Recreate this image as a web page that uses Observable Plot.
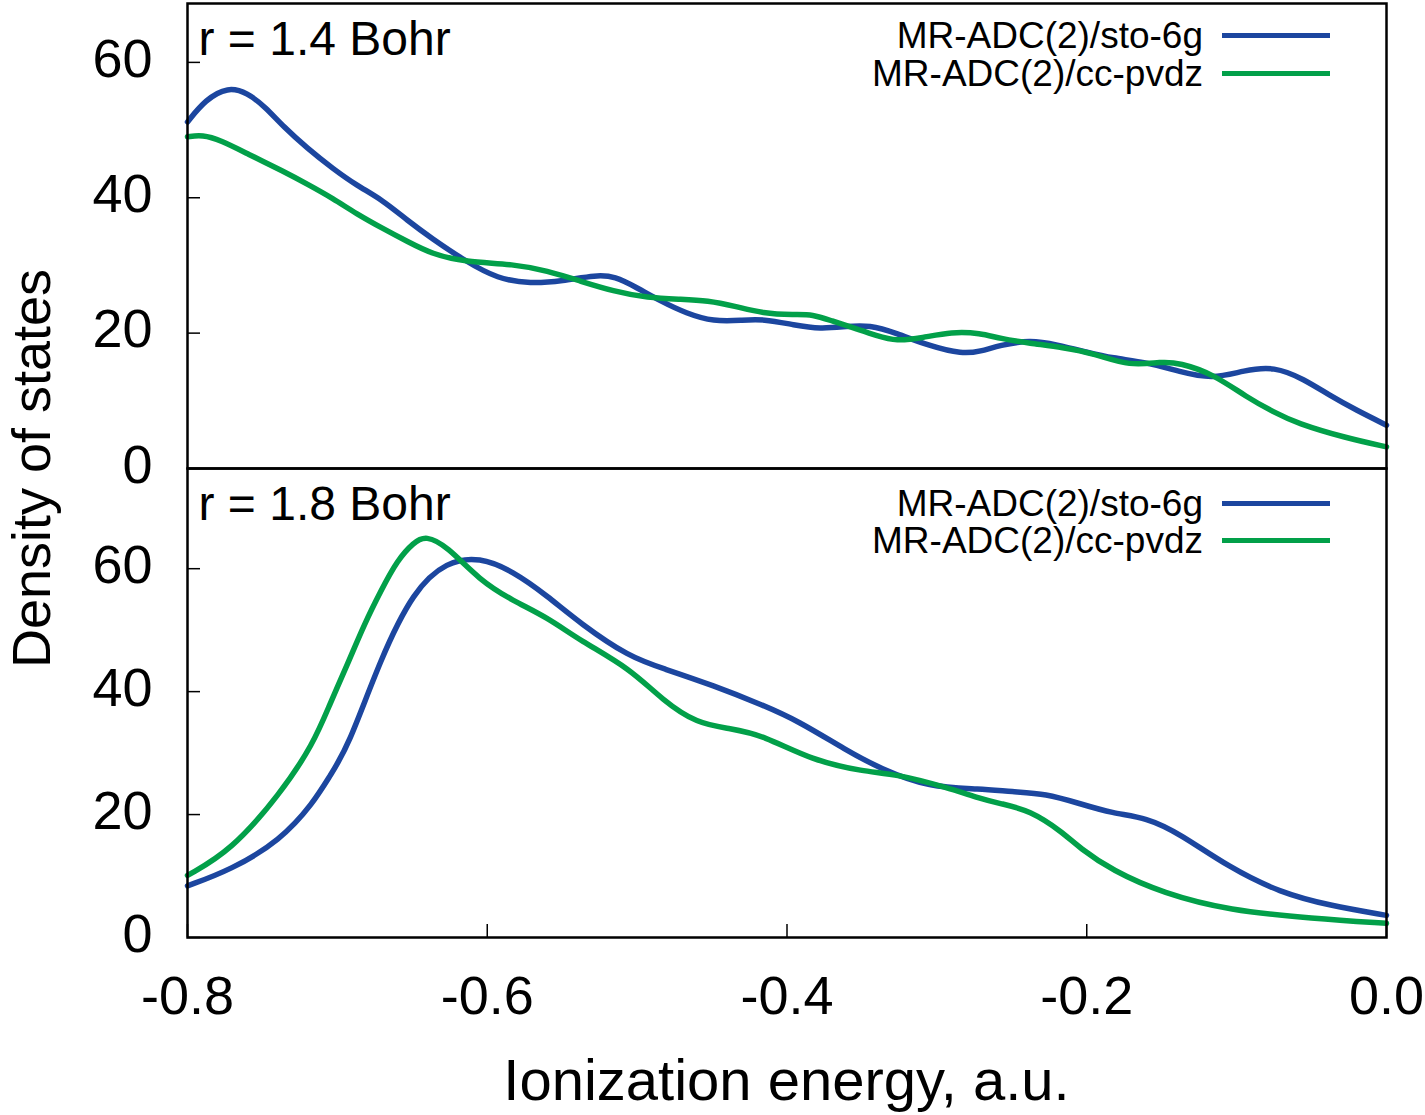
<!DOCTYPE html>
<html>
<head>
<meta charset="utf-8">
<script src="https://cdn.jsdelivr.net/npm/d3@7"></script>
<script src="https://cdn.jsdelivr.net/npm/@observablehq/plot@0.6"></script>
<style>
  html, body { margin: 0; padding: 0; background: #fff; }
  #chart { position: relative; width: 1425px; height: 1115px; font-family: "Liberation Sans", Arial, Helvetica, sans-serif; color: #000; }
  #chart svg { position: absolute; left: 0; top: 0; overflow: visible; }
  .txt { position: absolute; white-space: nowrap; line-height: 1; }
  .legline { position: absolute; height: 5px; }
</style>
</head>
<body>
<div id="chart"></div>
<script>
// ---------- data ----------
const xTicks = [-0.8, -0.6, -0.4, -0.2, 0.0];
const yTicks = [0, 20, 40, 60];
const seriesNames = ["MR-ADC(2)/sto-6g", "MR-ADC(2)/cc-pvdz"];
const seriesColors = ["#1c469f", "#02a049"];
const panelLabels = ["r = 1.4 Bohr", "r = 1.8 Bohr"];
const xTitle = "Ionization energy, a.u.";
const yTitle = "Density of states";

// r = 1.4 Bohr, sto-6g  [energy, DOS]
const r14_sto6g = [
  [-0.800,51.2],[-0.788,54.5],[-0.773,56.4],[-0.760,55.5],[-0.748,53.4],[-0.736,50.5],
  [-0.720,47.3],[-0.703,44.3],[-0.687,41.8],[-0.670,39.7],[-0.653,36.6],[-0.637,34.0],
  [-0.615,30.7],[-0.593,28.0],[-0.571,27.3],[-0.550,27.7],[-0.527,28.6],[-0.515,28.4],
  [-0.500,26.7],[-0.485,24.8],[-0.467,22.9],[-0.449,21.7],[-0.430,21.9],[-0.416,22.1],
  [-0.395,21.2],[-0.378,20.6],[-0.360,21.0],[-0.345,21.2],[-0.327,20.0],[-0.305,18.1],
  [-0.283,16.9],[-0.271,17.3],[-0.258,18.2],[-0.238,19.0],[-0.220,18.3],[-0.200,17.2],
  [-0.183,16.3],[-0.160,15.7],[-0.138,14.3],[-0.116,13.2],[-0.095,14.5],[-0.075,15.1],
  [-0.055,13.2],[-0.038,10.8],[-0.020,8.6],[0.000,6.4]
];
// r = 1.4 Bohr, cc-pvdz
const r14_ccpvdz = [
  [-0.800,49.0],[-0.790,49.3],[-0.778,48.5],[-0.760,46.5],[-0.736,43.9],[-0.720,42.0],
  [-0.703,39.9],[-0.687,37.6],[-0.670,35.5],[-0.653,33.5],[-0.637,31.7],[-0.615,30.5],
  [-0.582,30.2],[-0.560,29.2],[-0.538,27.7],[-0.516,26.2],[-0.493,25.2],[-0.470,25.0],
  [-0.453,24.8],[-0.435,24.0],[-0.416,22.9],[-0.395,22.7],[-0.383,22.8],[-0.370,21.8],
  [-0.356,20.8],[-0.340,19.6],[-0.327,18.8],[-0.310,19.3],[-0.290,20.2],[-0.271,20.0],
  [-0.258,19.2],[-0.238,18.5],[-0.216,17.9],[-0.195,17.0],[-0.171,15.1],[-0.150,15.8],
  [-0.138,15.6],[-0.116,14.0],[-0.093,10.5],[-0.075,8.3],[-0.060,6.7],[-0.027,4.5],[0.000,3.2]
];
// r = 1.8 Bohr, sto-6g
const r18_sto6g = [
  [-0.800,8.4],[-0.771,11.0],[-0.738,15.8],[-0.716,21.9],[-0.705,26.3],[-0.693,30.9],
  [-0.671,45.5],[-0.649,56.5],[-0.627,61.2],[-0.605,61.9],[-0.583,59.6],[-0.560,55.6],
  [-0.538,51.1],[-0.505,45.6],[-0.483,43.8],[-0.449,41.0],[-0.416,37.8],[-0.393,35.3],
  [-0.360,30.4],[-0.338,27.5],[-0.305,24.4],[-0.271,24.2],[-0.250,23.7],[-0.227,23.4],
  [-0.205,21.8],[-0.183,20.2],[-0.160,19.5],[-0.138,16.9],[-0.105,11.4],[-0.071,7.3],
  [-0.038,5.2],[0.000,3.6]
];
// r = 1.8 Bohr, cc-pvdz
const r18_ccpvdz = [
  [-0.800,10.1],[-0.771,14.1],[-0.738,23.4],[-0.716,31.5],[-0.705,38.0],[-0.693,44.6],
  [-0.682,51.0],[-0.671,56.4],[-0.660,61.4],[-0.649,64.3],[-0.641,65.4],[-0.627,63.7],
  [-0.605,58.1],[-0.583,54.8],[-0.560,52.1],[-0.538,48.3],[-0.505,43.8],[-0.483,38.6],
  [-0.460,34.8],[-0.438,34.0],[-0.416,32.9],[-0.383,28.8],[-0.349,27.0],[-0.327,26.6],
  [-0.293,24.4],[-0.271,22.6],[-0.258,21.8],[-0.238,20.7],[-0.216,17.1],[-0.205,14.6],
  [-0.183,10.9],[-0.149,7.2],[-0.105,4.4],[-0.049,3.1],[0.000,2.3]
];

// ---------- build ----------
const toRows = (pairs, series) => pairs.map(([x, y]) => ({x, y, series}));
const upperRows = [...toRows(r14_sto6g, seriesNames[0]), ...toRows(r14_ccpvdz, seriesNames[1])];
const lowerRows = [...toRows(r18_sto6g, seriesNames[0]), ...toRows(r18_ccpvdz, seriesNames[1])];

const FONT = '"Liberation Sans", Arial, Helvetica, sans-serif';
const chartEl = document.getElementById("chart");

function makePanel({data, yMax, height, marginTop, marginBottom, showX, label}) {
  const marks = [
    Plot.line(data, {x: "x", y: "y", z: "series", stroke: "series", strokeWidth: 5.5, curve: "basis"}),
    // inward tick marks
    Plot.axisY(yTicks, {tickSize: 13, insetLeft: 13, strokeWidth: 1.5, tickFormat: () => "", label: null}),
    // tick labels
    Plot.axisY(yTicks, {tickSize: 0, tickPadding: 35, fontSize: 54, dy: -3, label: null}),
    Plot.text([label], {frameAnchor: "top-left", dx: 11, dy: 17, fontSize: 48, lineAnchor: "top", textAnchor: "start"}),
    Plot.frame({stroke: "#000", strokeWidth: 2.5})
  ];
  if (showX) {
    marks.push(Plot.axisX(xTicks, {tickSize: 13, insetBottom: 13, tickPadding: 38, fontSize: 54, strokeWidth: 1.5,
      tickFormat: d => d.toFixed(1), label: null}));
    // y-axis title spanning both panels (centred on the shared border)
    marks.push(Plot.text([yTitle], {frameAnchor: "left", dx: -155, dy: -234.5, rotate: -90,
      fontSize: 54, textAnchor: "middle", lineAnchor: "middle"}));
  }
  return Plot.plot({
    width: 1425, height,
    marginLeft: 187, marginRight: 39, marginTop, marginBottom,
    style: {fontFamily: FONT, background: "transparent", color: "#000"},
    x: {domain: [-0.8, 0], axis: showX ? undefined : null},
    y: {domain: [0, yMax]},
    color: {domain: seriesNames, range: seriesColors},
    marks
  });
}

const lowerSvg = makePanel({data: lowerRows, yMax: 76.3, height: 1115, marginTop: 468, marginBottom: 178, showX: true, label: panelLabels[1]});
const upperSvg = makePanel({data: upperRows, yMax: 68.7, height: 470, marginTop: 3, marginBottom: 2, showX: false, label: panelLabels[0]});
chartEl.appendChild(lowerSvg);
chartEl.appendChild(upperSvg);

// ---------- legends (HTML) ----------
function addLegend(lineYs) {
  seriesNames.forEach((name, i) => {
    const t = document.createElement("div");
    t.className = "txt";
    t.textContent = name;
    t.style.fontSize = "37px";
    t.style.left = "0px";
    t.style.width = "1203px";
    t.style.textAlign = "right";
    t.style.top = (lineYs[i] - 18) + "px";
    chartEl.appendChild(t);
    const l = document.createElement("div");
    l.className = "legline";
    l.style.left = "1222px";
    l.style.width = "108px";
    l.style.top = (lineYs[i] - 2.5) + "px";
    l.style.background = seriesColors[i];
    chartEl.appendChild(l);
  });
}
addLegend([35, 73]);
addLegend([503, 540]);

// ---------- x-axis title ----------
const xt = document.createElement("div");
xt.className = "txt";
xt.textContent = xTitle;
xt.style.fontSize = "58px";
xt.style.left = "187px";
xt.style.width = "1199px";
xt.style.textAlign = "center";
xt.style.top = "1051px";
chartEl.appendChild(xt);
</script>
</body>
</html>
